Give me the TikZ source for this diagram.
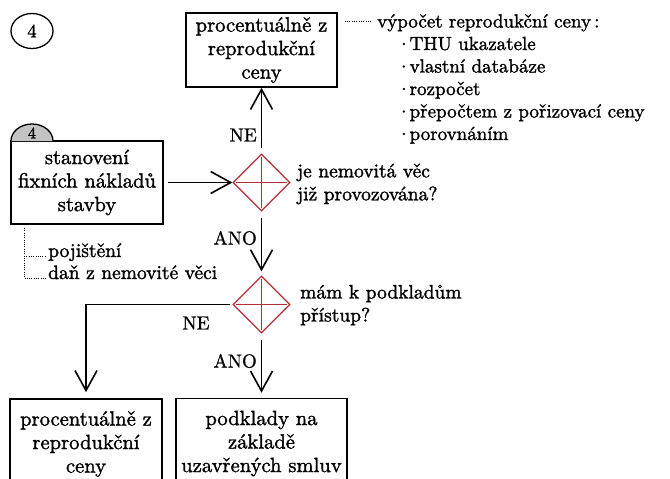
\documentclass[tikz,border=0pt]{standalone}
\usepackage{fontspec}
\setmainfont{lmroman10}[Extension=.otf,UprightFont=*-regular,BoldFont=*-bold,ItalicFont=*-italic]
\newfontfamily\heavyrm{lmroman10}[Extension=.otf,UprightFont=*-regular,UprightFeatures={FakeBold=1.5}]
\newfontfamily\semirm{lmroman10}[Extension=.otf,UprightFont=*-regular,UprightFeatures={FakeBold=0.8}]
\usetikzlibrary{arrows.meta,shapes.geometric,calc}
\definecolor{diared}{RGB}{180,45,55}
\definecolor{halfgray}{RGB}{195,195,195}
\begin{document}
\begin{tikzpicture}[x=1pt,y=-1pt,
  every node/.style={font=\heavyrm\fontsize{19.5}{23}\selectfont},
  boxfont/.style={font=\heavyrm\fontsize{20.6}{23.5}\selectfont},
  listfont/.style={font=\heavyrm\fontsize{19}{22.5}\selectfont},
  labfont/.style={font=\semirm\fontsize{19}{22.5}\selectfont},
  box/.style={draw,line width=1.6pt,align=center,inner sep=0pt,boxfont},
  dia/.style={diamond,draw=diared,line width=1.3pt,minimum width=57pt,minimum height=57pt,inner sep=0pt,
    path picture={\draw[diared,line width=1.2pt]
      ([xshift=3pt]path picture bounding box.west) -- ([xshift=-3pt]path picture bounding box.east)
      ([yshift=-3pt]path picture bounding box.north) -- ([yshift=3pt]path picture bounding box.south);}},
  arr/.style={line width=1.6pt,-{Straight Barb[length=20pt,width=22pt]}},
  lbl/.style={inner sep=0pt},
  dots/.style={line width=0.9pt,dash pattern=on 0.9pt off 1.4pt}]
\useasboundingbox (0,0) rectangle (670,479);
\clip (0,0) rectangle (670,479);
% step marker
\node[draw,ellipse,line width=1.3pt,minimum width=42pt,minimum height=35pt,inner sep=0pt,labfont] (c4) at (32,31) {4};
% boxes
\node[box,minimum width=151pt,minimum height=74pt] (top) at (261.5,50) {procentuálně z\\reprodukční\\ceny};
\node[box,minimum width=152pt,minimum height=83pt] (fix) at (87,182.5) {stanovení\\fixních nákladů\\stavby};
\filldraw[fill=halfgray,line width=1.3pt] (11,141) .. controls (11,131.6) and (20.4,124) .. (32,124)
  .. controls (43.6,124) and (53,131.6) .. (53,141);
\node[lbl,font=\heavyrm\fontsize{16}{16}\selectfont] (h4) at (32,133) {4};
\node[box,minimum width=152pt,minimum height=90pt] (bl) at (86,444) {procentuálně z\\reprodukční\\ceny};
\node[box,minimum width=171pt,minimum height=90pt] (br) at (261.5,443.5) {podklady na\\základě\\uzavřených smluv};
% decisions
\node[dia] (d1) at (261.5,182.5) {};
\node[dia] (d2) at (261.5,304.5) {};
\node[lbl,anchor=west,align=left] (q1) at (297,184) {je nemovitá věc\\již provozována?};
\node[lbl,anchor=west,align=left] (q2) at (300,305) {mám k podkladům\\přístup?};
% connectors
\draw[arr,shorten <=4pt] (fix.east) -- (d1.west);
\draw[arr,shorten <=5pt] (d1.north) -- (top.south);
\draw[arr,shorten <=6pt,shorten >=4pt] (d1.south) -- (d2.north);
\draw[arr,shorten <=2pt,shorten >=6pt] (d2.west) -| (bl.north);
\draw[arr,shorten <=6pt,shorten >=5pt] (d2.south) -- (br.north);
% labels
\node[lbl,labfont,anchor=east] (ne1) at (257,135) {NE};
\node[lbl,labfont,anchor=east] (ano1) at (257,238) {ANO};
\node[lbl,labfont] (ne2) at (196,323) {NE};
\node[lbl,labfont,anchor=east] (ano2) at (257,361) {ANO};
% notes right
\node[lbl,listfont,anchor=base west] (calc) at (377,27.5) {výpočet reprodukční ceny\,:};
\node[lbl,listfont,anchor=base west] (i1) at (401,50) {\raisebox{5pt}{.}\,THU ukazatele};
\node[lbl,listfont,anchor=base west] (i2) at (401,72.5) {\raisebox{5pt}{.}\,vlastní databáze};
\node[lbl,listfont,anchor=base west] (i3) at (401,95) {\raisebox{5pt}{.}\,rozpočet};
\node[lbl,listfont,anchor=base west] (i4) at (401,117.5) {\raisebox{5pt}{.}\,přepočtem z pořizovací ceny};
\node[lbl,listfont,anchor=base west] (i5) at (401,140) {\raisebox{5pt}{.}\,porovnáním};
\coordinate (t0) at (top.east |- 0,21);
\coordinate (t1) at (371,21);
\draw[dots] ([xshift=7pt]t0) -- (t1);
% notes left
\node[lbl,anchor=base west] (poj) at (48,257) {pojištění};
\node[lbl,anchor=base west] (dan) at (48,279) {daň z nemovité věci};
\coordinate (v0) at (24,228);
\coordinate (v1) at (24,256);
\coordinate (v2) at (24,278);
\coordinate (p1) at (46,256);
\coordinate (p2) at (46,278);
\draw[dots] (v0) -- (v2) -- (p2);
\draw[dots] (v1) -- (p1);
\end{tikzpicture}
\end{document}
